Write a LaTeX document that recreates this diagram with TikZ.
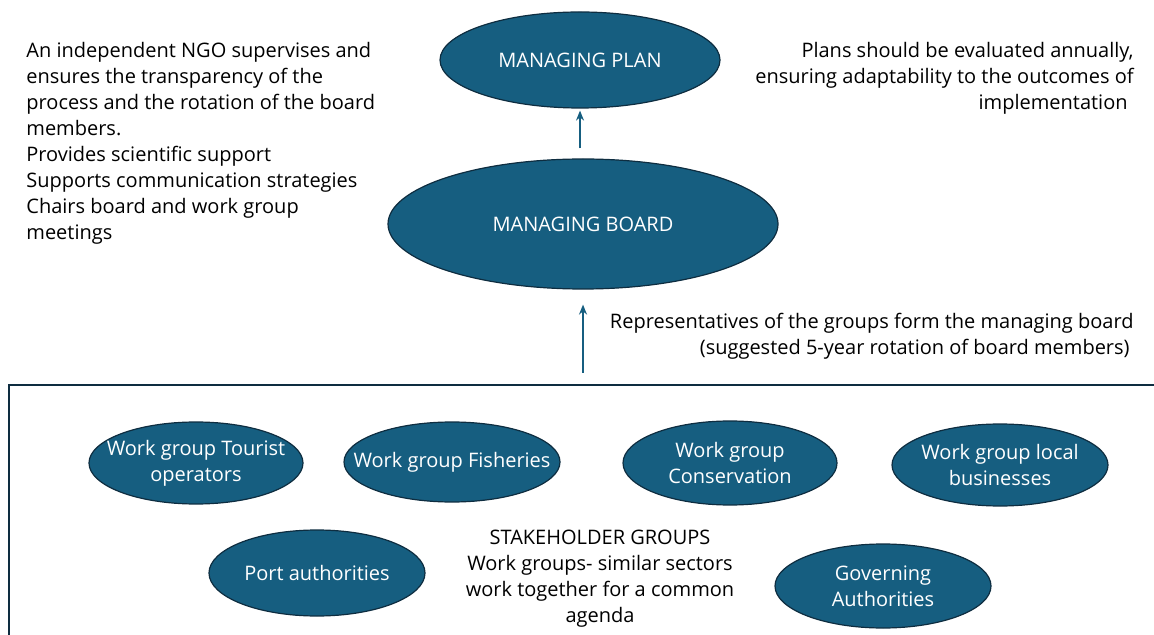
\documentclass[tikz,border=0pt]{standalone}
\usepackage{fontspec}
\setmainfont{Open Sans}
\usepackage{tikz}
\usetikzlibrary{arrows.meta}
\usetikzlibrary{shapes.geometric}
\usepackage{xcolor}
\definecolor{boardblue}{RGB}{22,94,128}
\definecolor{boardline}{RGB}{14,45,64}
\tikzset{blob/.style={ellipse, draw=boardline, line width=0.6pt, fill=boardblue,
  text=white, align=center, inner xsep=-15pt, inner ysep=0pt, font=\fontsize{10}{13}\selectfont},
  note/.style={align=left, font=\fontsize{10}{13}\selectfont, inner sep=0pt},
  up/.style={draw=boardblue, line width=0.8pt, -{Stealth[length=5pt, width=4pt]}}}

\begin{document}
\begin{tikzpicture}[x=0.5pt, y=-0.5pt]
	\clip (0,0) rectangle (1154,635);

	% frame of the stakeholder area
	\draw[boardline, line width=0.8pt] (9,700) |- (1200,385);

	\node[blob, minimum width=140pt, minimum height=48pt] (plan) at (580,60) {MANAGING PLAN};
	\node[blob, minimum width=195pt, minimum height=65pt] (board) at (583,224) {MANAGING BOARD};

	\node[blob, minimum width=107pt, minimum height=41pt] (tour) at (196,463) {Work group Tourist\\operators};
	\node[blob, minimum width=108pt, minimum height=40pt] (fish) at (452,462) {Work group Fisheries};
	\node[blob, minimum width=107pt, minimum height=42pt] (cons) at (730,463) {Work group\\Conservation};
	\node[blob, minimum width=108pt, minimum height=41pt] (local) at (1000,465) {Work group local\\businesses};
	\node[blob, minimum width=108pt, minimum height=43pt] (port) at (317,573) {Port authorities};
	\node[blob, minimum width=108pt, minimum height=42pt] (gov) at (883,586) {Governing\\Authorities};

	\node[note, align=center] (stake) at (600,579) {STAKEHOLDER GROUPS\\Work groups- similar sectors\\work together for a common\\agenda};

	\node[note, anchor=north west] (ngo) at (26,42) {An independent NGO supervises and\\ensures the transparency of the\\process and the rotation of the board\\members.\\Provides scientific support\\Supports communication strategies\\Chairs board and work group\\meetings};
	\node[note, anchor=north east, align=right] (eval) at (1134,42) {Plans should be evaluated annually,\\ensuring adaptability to the outcomes of\\implementation\hspace*{3pt}};
	\node[note, anchor=north east, align=right] (reps) at (1134,313) {Representatives of the groups form the managing board\\(suggested 5-year rotation of board members)\hspace*{2pt}};

	\coordinate (foot) at (583,373);
	\draw[up, shorten <=5pt, shorten >=1pt] (plan.south |- board.north) -- (plan.south);
	\draw[up, shorten >=7.5pt] (foot) -- (board.south);
\end{tikzpicture}
\end{document}
